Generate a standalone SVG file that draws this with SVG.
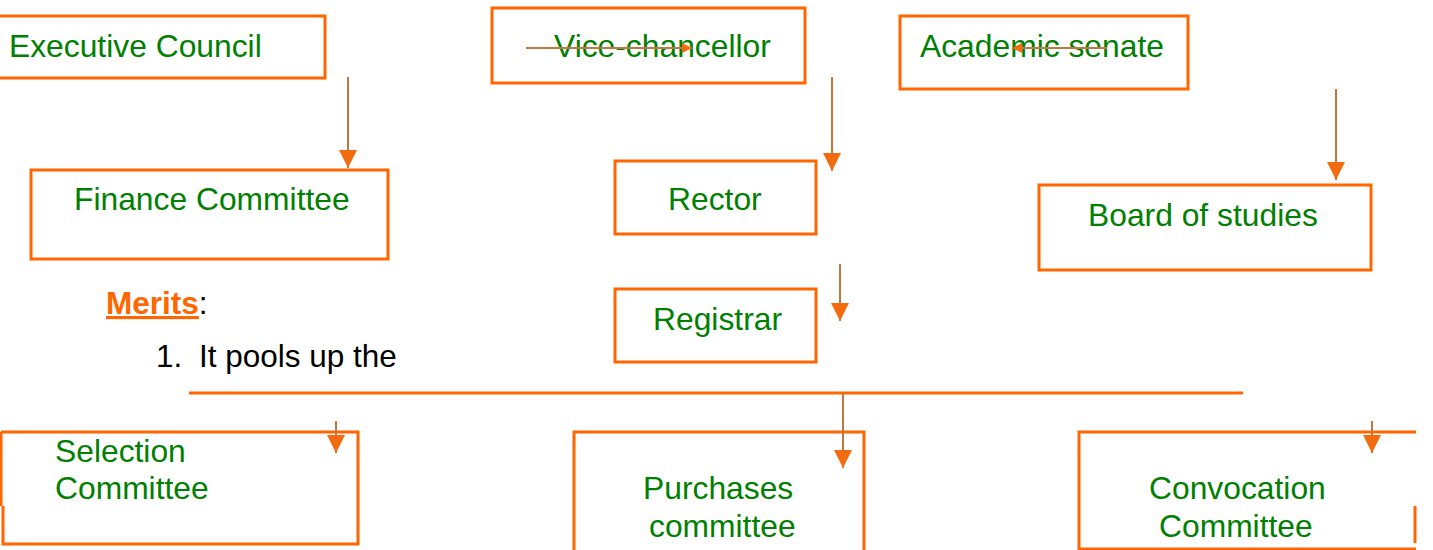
<svg xmlns="http://www.w3.org/2000/svg" width="1433" height="550" viewBox="0 0 1433 550">
<defs>
<style>
.box{fill:none;stroke:#FF6600;stroke-width:3}
.lbl{font-family:"Liberation Sans",Arial,sans-serif;font-size:31.8px;fill:#008000}
.conn{stroke:#C07840;stroke-width:2;fill:none}
.bar{stroke:#FF6600;stroke-width:3;fill:none}
.txt{font-family:"Liberation Sans",Arial,sans-serif;font-size:31.5px;fill:#000}
</style>
<marker id="ah" markerUnits="userSpaceOnUse" markerWidth="18" markerHeight="18" viewBox="0 0 16 16" refX="16" refY="8" orient="auto">
<path d="M0,0 L16,8 L0,16 Z" fill="#F26B0F"/>
</marker>
<marker id="ahs" markerUnits="userSpaceOnUse" markerWidth="10" markerHeight="10" viewBox="0 0 10 10" refX="10" refY="5" orient="auto">
<path d="M0,0 L10,5 L0,10 Z" fill="#F26B0F"/>
</marker>
</defs>
<rect width="1433" height="550" fill="#fff"/>

<g id="executive-council">
<rect class="box" x="-10" y="16" width="335" height="62"/>
<text class="lbl" x="9" y="57">Executive Council</text>
</g>
<g id="vice-chancellor">
<rect class="box" x="492" y="8" width="313" height="75"/>
<text class="lbl" x="554" y="57">Vice-chancellor</text>
</g>
<g id="academic-senate">
<rect class="box" x="900" y="16" width="288" height="73"/>
<text class="lbl" x="920" y="57">Academic senate</text>
</g>
<g id="finance-committee">
<rect class="box" x="31" y="170" width="357" height="89"/>
<text class="lbl" x="74" y="210">Finance Committee</text>
</g>
<g id="rector">
<rect class="box" x="615" y="161" width="201" height="73"/>
<text class="lbl" x="668" y="210">Rector</text>
</g>
<g id="board-of-studies">
<rect class="box" x="1039" y="185" width="332" height="85"/>
<text class="lbl" x="1088" y="226">Board of studies</text>
</g>
<g id="registrar">
<rect class="box" x="615" y="289" width="201" height="73"/>
<text class="lbl" x="653" y="330">Registrar</text>
</g>
<g id="merits">
<text class="txt" x="106" y="314"><tspan fill="#FF6600" font-weight="bold" text-decoration="underline">Merits</tspan>:</text>
<text class="txt" x="156" y="367">1.</text>
<text class="txt" x="199" y="367">It pools up the</text>
</g>
<g id="selection-committee">
<path class="box" d="M1,432 H358 V544 H3 V506 M1,506 V432"/>
<text class="lbl" x="55" y="462">Selection</text>
<text class="lbl" x="55" y="499">Committee</text>
</g>
<g id="purchases-committee">
<path class="box" d="M574,560 V432 H864 V560"/>
<text class="lbl" x="643" y="499">Purchases</text>
<text class="lbl" x="649" y="537">committee</text>
</g>
<g id="convocation-committee">
<path class="box" d="M1416,432 H1079 V549 H1416"/>
<path class="box" d="M1415,506 V543"/>
<text class="lbl" x="1149" y="499">Convocation</text>
<text class="lbl" x="1159" y="537">Committee</text>
</g>

<g id="connectors">
<line class="conn" x1="348" y1="77" x2="348" y2="168" marker-end="url(#ah)"/>
<line class="conn" x1="832" y1="77" x2="832" y2="171" marker-end="url(#ah)"/>
<line class="conn" x1="1336" y1="89" x2="1336" y2="180" marker-end="url(#ah)"/>
<line class="conn" x1="840" y1="264" x2="840" y2="321" marker-end="url(#ah)"/>
<line class="bar" x1="189" y1="393" x2="1243" y2="393"/>
<line class="conn" x1="843" y1="393" x2="843" y2="468" marker-end="url(#ah)"/>
<line class="conn" x1="336" y1="421" x2="336" y2="453" marker-end="url(#ah)"/>
<line class="conn" x1="1372" y1="421" x2="1372" y2="453" marker-end="url(#ah)"/>
<line class="conn" x1="526" y1="48" x2="692" y2="48" marker-end="url(#ahs)"/>
<line class="conn" x1="1107" y1="48" x2="1012" y2="48" marker-end="url(#ahs)"/>
</g>
</svg>
